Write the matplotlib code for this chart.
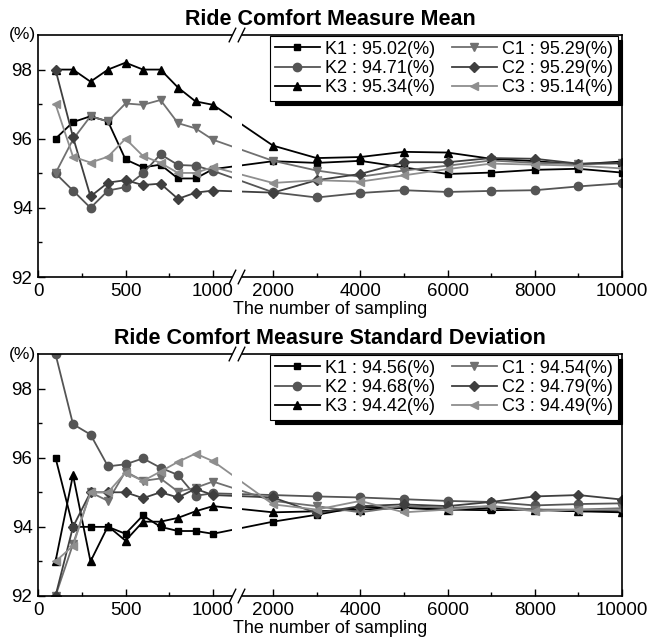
import numpy as np
import matplotlib
matplotlib.use("Agg")
import matplotlib.pyplot as plt
from matplotlib.patches import Rectangle
from matplotlib.transforms import blended_transform_factory
from matplotlib.lines import Line2D

plt.rcParams['font.family'] = ['Liberation Sans', 'DejaVu Sans']

# ---------------- data ----------------
samples = [100, 200, 300, 400, 500, 600, 700, 800, 900, 1000,
           2000, 3000, 4000, 5000, 6000, 7000, 8000, 9000, 10000]

series_names = ['K1', 'K2', 'K3', 'C1', 'C2', 'C3']

mean_legend = ['95.02', '94.71', '95.34', '95.29', '95.29', '95.14']
mean_K1 = [96.0, 96.48, 96.65, 96.5, 95.4, 95.17, 95.25, 94.85, 94.85, 95.12,
           95.35, 95.3, 95.36, 95.17, 94.98, 95.02, 95.1, 95.13, 95.02]
mean_K2 = [95.0, 94.5, 94.0, 94.5, 94.6, 95.0, 95.55, 95.24, 95.22, 95.07,
           94.45, 94.3, 94.43, 94.51, 94.46, 94.49, 94.51, 94.62, 94.71]
mean_K3 = [98.0, 98.0, 97.65, 98.0, 98.2, 98.0, 98.0, 97.48, 97.08, 96.98,
           95.8, 95.44, 95.47, 95.62, 95.6, 95.42, 95.35, 95.26, 95.34]
mean_C1 = [95.0, 95.98, 96.65, 96.5, 97.02, 96.98, 97.12, 96.45, 96.3, 95.97,
           95.36, 95.08, 94.9, 95.08, 95.22, 95.37, 95.3, 95.27, 95.29]
mean_C2 = [98.0, 96.05, 94.33, 94.73, 94.8, 94.66, 94.7, 94.26, 94.44, 94.5,
           94.44, 94.8, 94.98, 95.32, 95.32, 95.44, 95.42, 95.28, 95.29]
mean_C3 = [97.0, 95.48, 95.31, 95.48, 96.0, 95.5, 95.3, 95.01, 95.01, 95.18,
           94.72, 94.8, 94.76, 94.94, 95.12, 95.28, 95.25, 95.22, 95.14]

std_legend = ['94.56', '94.68', '94.42', '94.54', '94.79', '94.49']
std_K1 = [96.0, 94.0, 94.0, 94.0, 93.8, 94.33, 94.0, 93.88, 93.88, 93.8,
          94.15, 94.35, 94.58, 94.55, 94.5, 94.48, 94.5, 94.45, 94.47]
std_K2 = [99.0, 96.97, 96.67, 95.75, 95.81, 95.98, 95.71, 95.5, 94.9, 94.97,
          94.92, 94.88, 94.85, 94.8, 94.75, 94.72, 94.62, 94.66, 94.68]
std_K3 = [93.0, 95.5, 93.0, 94.02, 93.6, 94.15, 94.15, 94.26, 94.45, 94.6,
          94.42, 94.45, 94.5, 94.55, 94.5, 94.55, 94.5, 94.45, 94.42]
std_C1 = [92.0, 93.5, 95.0, 94.75, 95.6, 95.33, 95.4, 95.02, 95.13, 95.31,
          94.75, 94.6, 94.42, 94.6, 94.55, 94.6, 94.5, 94.5, 94.54]
std_C2 = [92.0, 94.0, 95.0, 95.0, 95.0, 94.83, 95.0, 94.85, 95.1, 94.92,
          94.85, 94.4, 94.6, 94.65, 94.6, 94.72, 94.88, 94.92, 94.79]
std_C3 = [93.0, 93.45, 95.0, 95.0, 95.57, 95.33, 95.6, 95.88, 96.12, 95.9,
          94.65, 94.5, 94.75, 94.42, 94.5, 94.6, 94.45, 94.5, 94.49]

x_major = [0, 500, 1000, 2000, 4000, 6000, 8000, 10000]
x_minor = [250, 750, 3000, 5000, 7000, 9000]
y_major = [92, 94, 96, 98]
y_minor = [93, 95, 97]

titles = ['Ride Comfort Measure Mean', 'Ride Comfort Measure Standard Deviation']
xlabel = 'The number of sampling'

# ---------------- style ----------------
colors = ['#000000', '#555555', '#000000', '#707070', '#3f3f3f', '#8e8e8e']
markers = ['s', 'o', '^', 'v', 'D', '<']
msizes = [5, 6, 6, 6, 5, 6]

# broken x axis: piecewise-linear scale
XP = [0, 1000, 2000, 10000]
UP = [0, 1000, 1343, 3337]


def fwd(x):
    return np.interp(np.asarray(x, float), XP, UP)


def inv(u):
    return np.interp(np.asarray(u, float), UP, XP)


GAP0, GAP1 = 1324, 1475

fig = plt.figure(figsize=(6.48, 6.39), dpi=100)
ax1 = fig.add_axes([38 / 648, 1 - 277 / 639, 584 / 648, 242 / 639])
ax2 = fig.add_axes([38 / 648, 1 - 596 / 639, 584 / 648, 242 / 639])

datasets = [
    ([mean_K1, mean_K2, mean_K3, mean_C1, mean_C2, mean_C3], mean_legend),
    ([std_K1, std_K2, std_K3, std_C1, std_C2, std_C3], std_legend),
]

for ax, (ser, leg), title in zip([ax1, ax2], datasets, titles):
    ax.set_xscale('function', functions=(fwd, inv))
    handles = []
    for name, vals, c, m, ms, lv in zip(series_names, ser, colors, markers, msizes, leg):
        h, = ax.plot(samples, vals, color=c, marker=m, markersize=ms, lw=1.3,
                     markerfacecolor=c, markeredgecolor=c,
                     label=f'{name} : {lv}(%)', zorder=2)
        handles.append(h)
    ax.set_xlim(0, 10000)
    ax.set_ylim(92, 99)
    ax.set_xticks(x_major)
    ax.set_xticklabels([str(v) for v in x_major])
    ax.set_xticks(x_minor, minor=True)
    ax.set_yticks(y_major)
    ax.set_yticks(y_minor, minor=True)
    ax.tick_params(axis='both', which='both', direction='in', labelsize=13.5,
                   top=False, right=False, width=1.0)
    ax.tick_params(which='major', length=5)
    ax.tick_params(which='minor', length=3)
    ax.tick_params(axis='x', pad=4)
    ax.tick_params(axis='y', pad=4)
    for s in ax.spines.values():
        s.set_linewidth(1.2)
    ax.set_title(title, fontsize=15.5, fontweight='bold', pad=7)
    ax.set_xlabel(xlabel, fontsize=13, labelpad=1)
    ax.text(-0.004, 1.0, '(%)', transform=ax.transAxes, ha='right', va='center',
            fontsize=12.5)

    # axis break
    trans = blended_transform_factory(ax.transData, ax.transAxes)
    ax.add_patch(Rectangle((GAP0, -0.008), GAP1 - GAP0, 1.016, transform=trans,
                           facecolor='white', edgecolor='none', zorder=3,
                           clip_on=False))
    for xc in (GAP0, GAP1):
        for yc in (0.0, 1.0):
            ax.add_line(Line2D([xc - 55, xc + 55], [yc - 0.028, yc + 0.028],
                               transform=trans, color='black', lw=1.0,
                               clip_on=False, zorder=4))

    lg = ax.legend(handles=handles, ncol=2, loc='upper right',
                   bbox_to_anchor=(0.993, 0.995), fontsize=13,
                   frameon=True, fancybox=False, edgecolor='black',
                   framealpha=1, handlelength=2.5, handletextpad=0.3,
                   columnspacing=0.9, labelspacing=0.12, borderpad=0.25,
                   borderaxespad=0.0,
                   shadow={'ox': 3, 'oy': -3, 'facecolor': 'black',
                           'edgecolor': 'black', 'alpha': 1})
    lg.get_frame().set_linewidth(0.8)
    lg.set_zorder(5)

fig.savefig('out.png', dpi=100)
